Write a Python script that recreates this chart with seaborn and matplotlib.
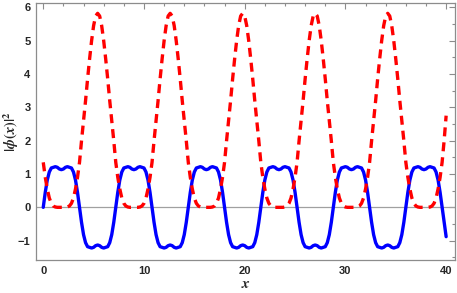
import numpy as np
import pandas as pd
import matplotlib
matplotlib.use('Agg')
import matplotlib.pyplot as plt
import seaborn as sns

# sample positions, step 0.2 from 0 to 40
x_vals = np.round(np.arange(201) * 0.2, 1)

# blue solid curve (one row per half period of 3.6)
blue_vals = [
    0, 0.45, 0.82, 1.06, 1.18, 1.20, 1.22, 1.20, 1.15, 1.13, 1.15, 1.20, 1.22, 1.20, 1.18, 1.06, 0.82, 0.45,
    0, -0.45, -0.82, -1.06, -1.18, -1.20, -1.22, -1.20, -1.15, -1.13, -1.15, -1.20, -1.22, -1.20, -1.18, -1.06, -0.82, -0.45,
    0, 0.45, 0.82, 1.06, 1.18, 1.20, 1.22, 1.20, 1.15, 1.13, 1.15, 1.20, 1.22, 1.20, 1.18, 1.06, 0.82, 0.45,
    0, -0.45, -0.82, -1.06, -1.18, -1.20, -1.22, -1.20, -1.15, -1.13, -1.15, -1.20, -1.22, -1.20, -1.18, -1.06, -0.82, -0.45,
    0, 0.45, 0.82, 1.06, 1.18, 1.20, 1.22, 1.20, 1.15, 1.13, 1.15, 1.20, 1.22, 1.20, 1.18, 1.06, 0.82, 0.45,
    0, -0.45, -0.82, -1.06, -1.18, -1.20, -1.22, -1.20, -1.15, -1.13, -1.15, -1.20, -1.22, -1.20, -1.18, -1.06, -0.82, -0.45,
    0, 0.45, 0.82, 1.06, 1.18, 1.20, 1.22, 1.20, 1.15, 1.13, 1.15, 1.20, 1.22, 1.20, 1.18, 1.06, 0.82, 0.45,
    0, -0.45, -0.82, -1.06, -1.18, -1.20, -1.22, -1.20, -1.15, -1.13, -1.15, -1.20, -1.22, -1.20, -1.18, -1.06, -0.82, -0.45,
    0, 0.45, 0.82, 1.06, 1.18, 1.20, 1.22, 1.20, 1.15, 1.13, 1.15, 1.20, 1.22, 1.20, 1.18, 1.06, 0.82, 0.45,
    0, -0.45, -0.82, -1.06, -1.18, -1.20, -1.22, -1.20, -1.15, -1.13, -1.15, -1.20, -1.22, -1.20, -1.18, -1.06, -0.82, -0.45,
    0, 0.45, 0.82, 1.06, 1.18, 1.20, 1.22, 1.20, 1.15, 1.13, 1.15, 1.20, 1.22, 1.20, 1.18, 1.06, 0.82, 0.45,
    0, -0.45, -0.88,
]

# red dashed curve |phi(x)|^2
red_vals = [
    1.35, 0.9, 0.55, 0.28, 0.12, 0.04, 0.01, 0, 0, 0, 0, 0, 0.01, 0.04, 0.12, 0.28, 0.55, 0.9,
    1.35, 2.0, 2.6, 3.2, 3.85, 4.45, 5.0, 5.45, 5.74, 5.82, 5.74, 5.45, 5.0, 4.45, 3.85, 3.2, 2.6, 2.0,
    1.35, 0.9, 0.55, 0.28, 0.12, 0.04, 0.01, 0, 0, 0, 0, 0, 0.01, 0.04, 0.12, 0.28, 0.55, 0.9,
    1.35, 2.0, 2.6, 3.2, 3.85, 4.45, 5.0, 5.45, 5.74, 5.82, 5.74, 5.45, 5.0, 4.45, 3.85, 3.2, 2.6, 2.0,
    1.35, 0.9, 0.55, 0.28, 0.12, 0.04, 0.01, 0, 0, 0, 0, 0, 0.01, 0.04, 0.12, 0.28, 0.55, 0.9,
    1.35, 2.0, 2.6, 3.2, 3.85, 4.45, 5.0, 5.45, 5.74, 5.82, 5.74, 5.45, 5.0, 4.45, 3.85, 3.2, 2.6, 2.0,
    1.35, 0.9, 0.55, 0.28, 0.12, 0.04, 0.01, 0, 0, 0, 0, 0, 0.01, 0.04, 0.12, 0.28, 0.55, 0.9,
    1.35, 2.0, 2.6, 3.2, 3.85, 4.45, 5.0, 5.45, 5.74, 5.82, 5.74, 5.45, 5.0, 4.45, 3.85, 3.2, 2.6, 2.0,
    1.35, 0.9, 0.55, 0.28, 0.12, 0.04, 0.01, 0, 0, 0, 0, 0, 0.01, 0.04, 0.12, 0.28, 0.55, 0.9,
    1.35, 2.0, 2.6, 3.2, 3.85, 4.45, 5.0, 5.45, 5.74, 5.82, 5.74, 5.45, 5.0, 4.45, 3.85, 3.2, 2.6, 2.0,
    1.35, 0.9, 0.55, 0.28, 0.12, 0.04, 0.01, 0, 0, 0, 0, 0, 0.01, 0.04, 0.12, 0.28, 0.55, 0.9,
    1.35, 2.0, 2.75,
]

x_ticks = [0, 10, 20, 30, 40]
y_ticks = [-1, 0, 1, 2, 3, 4, 5, 6]
y_tick_labels = ['\u22121', '0', '1', '2', '3', '4', '5', '6']


def main():
    sns.set_style('white')
    plt.rcParams['mathtext.fontset'] = 'stix'
    plt.rcParams['font.family'] = ['Liberation Sans', 'DejaVu Sans']
    plt.rcParams['font.weight'] = 'bold'

    df = pd.DataFrame({'x': x_vals, 'blue': blue_vals, 'red': red_vals})

    fig = plt.figure(figsize=(4.57, 2.93), dpi=100)
    ax = fig.add_axes([36 / 457, 1 - 260 / 293, 419 / 457, 257 / 293])

    ax.axhline(0, color='#a0a0a0', lw=0.9, zorder=1)
    sns.lineplot(data=df, x='x', y='blue', color='#0000ff', lw=2.4, ax=ax, zorder=2)
    sns.lineplot(data=df, x='x', y='red', color='#ff0000', lw=2.4, ax=ax, zorder=3,
                 linestyle=(0, (2.7, 1.8)))

    ax.set_xlim(-0.72, 40.88)
    ax.set_ylim(-1.58, 6.13)
    ax.set_xticks(x_ticks)
    ax.set_yticks(y_ticks, y_tick_labels)
    ax.set_xticks(np.arange(0, 41, 2), minor=True)
    ax.set_yticks(np.arange(-1.5, 6.1, 0.5), minor=True)

    frame_col = '#8c8c8c'
    for sp in ax.spines.values():
        sp.set_color(frame_col)
        sp.set_linewidth(0.9)
    ax.tick_params(which='both', direction='in', top=True, right=True, color=frame_col, width=0.8)
    ax.tick_params(which='major', length=4.5, labelsize=8, pad=4)
    ax.tick_params(which='minor', length=2.5)

    ax.set_xlabel(r'$\mathbf{\mathit{x}}$', fontsize=11, labelpad=1)
    ax.set_ylabel(r'$|\phi(x)|^2$', fontsize=10.5)
    ax.yaxis.set_label_coords(-0.036, 0.5)

    fig.savefig('out.png', dpi=100)


main()
